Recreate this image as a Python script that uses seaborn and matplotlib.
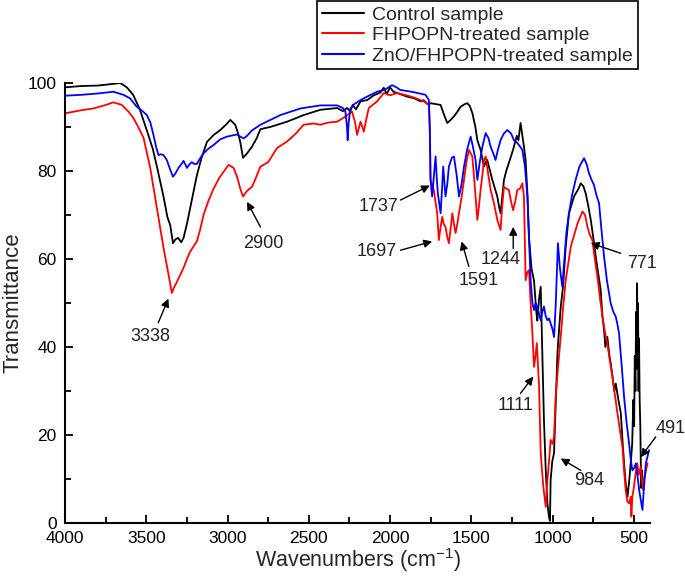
import seaborn as sns
import matplotlib.pyplot as plt
import pandas as pd
from matplotlib.ticker import MultipleLocator

# FTIR spectra (wavenumber cm-1, transmittance)
control_wn = [4000, 3900, 3800, 3700, 3661, 3620, 3581, 3540, 3495, 3460, 3433, 3396, 3370, 3353, 3336,
              3320, 3304, 3285, 3271, 3250, 3230, 3189, 3160, 3127, 3085, 3045, 3010, 2983, 2953, 2935,
              2922, 2905, 2880, 2850, 2820, 2798, 2737, 2634, 2532, 2429, 2326, 2290, 2264, 2245, 2230,
              2210, 2182, 2141, 2100, 2060, 2039, 2020, 2000, 1979, 1940, 1895, 1850, 1812, 1794, 1763,
              1751, 1720, 1689, 1670, 1648, 1630, 1607, 1585, 1566, 1540, 1525, 1510, 1494, 1475, 1463,
              1443, 1430, 1422, 1412, 1402, 1385, 1371, 1355, 1340, 1330, 1320, 1310, 1299, 1285, 1269,
              1250, 1238, 1220, 1210, 1197, 1186, 1176, 1166, 1155, 1145, 1130, 1114, 1100, 1094, 1083,
              1073, 1063, 1053, 1042, 1032, 1022, 1016, 1012, 1002, 991, 980, 970, 960, 950, 935,
              919, 909, 899, 868, 840, 827, 810, 796, 780, 765, 750, 734, 720, 704, 693,
              683, 675, 663, 650, 642, 630, 620, 611, 595, 580, 570, 560, 550, 539, 530,
              519, 510, 503, 498, 494, 490, 486, 482, 480, 477, 474, 471, 468, 464, 460,
              455, 450, 446]
control_t = [99.0, 99.3, 99.4, 99.8, 100.0, 99.0, 97.3, 94.0, 89.0, 85.0, 80.7, 74.5, 69.5, 67.7, 63.6,
             64.5, 64.8, 63.8, 64.8, 68.0, 71.6, 79.0, 83.0, 86.6, 88.2, 89.3, 90.5, 91.6, 90.5, 88.5,
             86.6, 83.0, 84.0, 85.5, 87.5, 89.5, 90.0, 91.2, 92.7, 93.9, 94.3, 93.6, 94.3, 93.5, 95.0,
             94.0, 95.8, 96.1, 97.2, 97.8, 98.9, 97.5, 99.0, 98.0, 97.5, 96.9, 96.5, 95.8, 96.1, 95.0,
             95.4, 95.2, 95.0, 93.0, 90.9, 91.5, 92.4, 93.5, 94.6, 95.2, 95.4, 94.8, 93.2, 90.0, 87.0,
             84.8, 82.5, 81.0, 82.0, 82.5, 80.0, 78.0, 76.0, 74.2, 72.0, 70.4, 74.0, 78.0, 80.0, 81.8,
             84.0, 85.5, 88.0, 87.0, 90.9, 88.0, 85.5, 82.5, 75.0, 65.0, 58.0, 55.0, 48.0, 46.0, 51.0,
             53.7, 38.6, 23.4, 12.0, 4.5, 1.4, 0.5, 9.8, 14.0, 15.9, 28.0, 38.6, 44.0, 49.0, 54.0,
             62.8, 66.6, 70.4, 74.2, 76.0, 77.2, 76.5, 74.9, 72.0, 68.9, 65.0, 60.5, 57.0, 53.0, 47.0,
             43.9, 40.0, 42.3, 38.0, 36.3, 33.0, 30.0, 31.7, 28.0, 25.0, 19.0, 13.6, 9.0, 6.0, 9.0,
             13.6, 18.0, 28.0, 22.0, 38.0, 30.0, 48.0, 40.0, 54.5, 35.0, 50.0, 30.0, 42.0, 28.0, 22.0,
             8.0, 12.0, 10.0]

fhpopn_wn = [4000, 3900, 3826, 3750, 3702, 3651, 3610, 3579, 3550, 3517, 3476, 3435, 3394, 3363, 3343,
             3330, 3312, 3290, 3271, 3250, 3230, 3189, 3170, 3148, 3120, 3086, 3050, 3025, 2994, 2963,
             2940, 2922, 2905, 2880, 2850, 2825, 2798, 2750, 2696, 2634, 2580, 2532, 2470, 2429, 2380,
             2326, 2290, 2264, 2234, 2215, 2203, 2190, 2182, 2170, 2162, 2145, 2131, 2080, 2039, 2000,
             1957, 1900, 1854, 1792, 1761, 1755, 1751, 1731, 1720, 1710, 1700, 1690, 1679, 1670, 1659,
             1648, 1638, 1627, 1617, 1607, 1597, 1586, 1576, 1560, 1545, 1530, 1515, 1494, 1484, 1474,
             1463, 1453, 1443, 1432, 1422, 1412, 1395, 1381, 1361, 1340, 1320, 1310, 1299, 1285, 1269,
             1255, 1243, 1230, 1217, 1200, 1186, 1176, 1166, 1155, 1145, 1135, 1124, 1114, 1105, 1097,
             1083, 1073, 1065, 1057, 1042, 1032, 1022, 1012, 1000, 991, 981, 965, 950, 935, 919,
             888, 847, 816, 800, 786, 771, 755, 740, 724, 708, 693, 678, 663, 648, 632,
             616, 601, 585, 570, 560, 550, 540, 529, 519, 515, 509, 500, 490, 478, 470,
             457, 448, 441, 437, 425, 416]
fhpopn_t = [93.1, 93.8, 94.2, 95.0, 95.6, 95.0, 93.5, 92.0, 90.0, 87.5, 80.7, 71.6, 62.5, 56.4, 52.3,
            53.5, 54.8, 56.5, 58.0, 60.0, 61.7, 64.0, 66.5, 70.0, 73.0, 76.0, 78.5, 79.8, 81.4, 80.7,
            78.5, 76.0, 74.2, 75.5, 76.4, 78.5, 81.0, 82.0, 85.2, 86.7, 88.5, 90.5, 90.8, 90.5, 91.0,
            91.2, 92.0, 92.7, 93.5, 91.0, 88.2, 90.0, 91.2, 90.0, 88.9, 92.0, 94.3, 95.8, 97.7, 97.2,
            97.7, 97.2, 96.7, 95.8, 95.0, 90.0, 78.0, 75.7, 73.0, 70.4, 64.3, 67.0, 69.6, 68.0, 67.3,
            65.0, 63.6, 67.0, 70.4, 68.0, 65.9, 68.0, 70.4, 74.0, 78.0, 82.0, 84.8, 83.3, 79.0, 74.2,
            68.9, 72.0, 75.7, 79.0, 82.5, 83.3, 79.0, 75.7, 72.7, 68.9, 66.6, 72.0, 76.4, 76.0, 75.7,
            73.0, 71.1, 73.0, 75.7, 76.0, 77.2, 74.2, 55.2, 57.0, 57.5, 50.0, 43.0, 35.5, 38.0, 40.9,
            31.0, 15.9, 12.0, 8.3, 3.7, 9.8, 14.0, 18.9, 18.0, 19.6, 28.7, 36.0, 42.3, 49.0, 55.2,
            62.8, 68.0, 70.8, 70.0, 67.4, 65.5, 64.3, 60.0, 56.0, 51.0, 46.9, 43.5, 40.8, 37.0, 33.3,
            29.0, 25.0, 21.0, 17.3, 12.0, 7.5, 5.0, 4.5, 6.0, 1.5, 6.0, 8.0, 11.0, 13.6, 11.0,
            12.8, 9.0, 7.5, 9.8, 12.0, 13.6]

zno_wn = [4000, 3900, 3800, 3702, 3641, 3600, 3559, 3520, 3497, 3475, 3456, 3440, 3425, 3410, 3394,
          3374, 3355, 3336, 3320, 3302, 3285, 3271, 3260, 3250, 3235, 3220, 3205, 3189, 3170, 3148,
          3120, 3086, 3045, 3004, 2942, 2922, 2900, 2880, 2850, 2798, 2737, 2675, 2600, 2552, 2500,
          2429, 2326, 2290, 2275, 2265, 2261, 2255, 2244, 2220, 2182, 2141, 2080, 2030, 1988, 1960,
          1937, 1900, 1854, 1782, 1761, 1755, 1751, 1741, 1730, 1720, 1712, 1706, 1689, 1680, 1673,
          1659, 1648, 1638, 1620, 1607, 1590, 1576, 1560, 1545, 1525, 1504, 1490, 1474, 1463, 1448,
          1432, 1412, 1395, 1381, 1365, 1351, 1335, 1320, 1300, 1279, 1255, 1238, 1220, 1207, 1186,
          1170, 1155, 1145, 1135, 1124, 1114, 1105, 1094, 1083, 1073, 1063, 1053, 1042, 1032, 1022,
          1012, 1000, 991, 981, 967, 955, 940, 929, 915, 899, 880, 858, 835, 806, 790,
          776, 760, 745, 730, 714, 700, 683, 665, 642, 626, 611, 600, 591, 575, 560,
          545, 529, 519, 509, 498, 488, 475, 465, 457, 447, 438, 426, 406]
zno_t = [97.1, 97.3, 97.6, 98.0, 97.3, 96.5, 94.6, 93.5, 92.7, 91.0, 88.2, 85.5, 83.6, 83.8, 83.6,
         82.5, 80.5, 78.7, 79.5, 80.7, 81.5, 82.3, 81.5, 80.7, 81.5, 82.0, 81.6, 81.6, 82.8, 84.0,
         85.0, 85.9, 87.2, 87.8, 88.3, 87.8, 87.4, 88.0, 89.2, 90.5, 91.6, 92.7, 93.6, 94.2, 94.5,
         94.9, 94.9, 94.3, 93.5, 90.0, 87.0, 91.0, 94.2, 95.2, 96.1, 96.9, 98.0, 98.5, 99.5, 99.0,
         98.4, 98.2, 97.9, 97.3, 96.1, 88.0, 78.0, 74.2, 79.0, 83.3, 78.0, 74.9, 70.4, 76.0, 81.0,
         74.2, 77.0, 81.0, 83.0, 83.3, 79.0, 74.2, 77.0, 81.0, 85.0, 87.8, 85.5, 82.5, 78.0, 82.0,
         85.5, 88.6, 87.5, 85.5, 84.0, 82.5, 85.0, 87.0, 88.5, 89.3, 88.5, 87.0, 86.5, 85.9, 84.8,
         81.0, 74.2, 65.0, 55.2, 50.0, 48.4, 50.0, 49.2, 47.5, 46.1, 48.0, 49.2, 47.0, 46.1, 46.5,
         45.4, 44.0, 42.3, 49.2, 63.6, 58.0, 53.7, 59.0, 66.0, 70.4, 74.5, 78.0, 81.0, 82.9, 81.5,
         79.5, 78.0, 76.8, 74.5, 72.7, 67.0, 60.5, 55.0, 49.9, 48.0, 46.9, 45.0, 43.1, 36.0, 28.7,
         23.0, 18.1, 14.5, 12.0, 12.5, 13.6, 10.0, 7.0, 5.2, 3.0, 8.0, 13.6, 16.6]

sample_names = ['Control sample', 'FHPOPN-treated sample', 'ZnO/FHPOPN-treated sample']
sample_colors = ['#000000', '#ff0000', '#0000ff']

# peak labels: (text, peak position, text position)
peak_labels = ['3338', '2900', '1737', '1697', '1591', '1244', '1111', '984', '771', '491']
peak_tips = [(3364, 51), (2880, 73), (1755, 76.7), (1741, 64), (1560, 64), (1242, 67.3),
             (1119, 33.3), (950, 14.7), (765, 63.6), (457, 15)]
label_pos = [(3476, 42.3), (2778, 63.6), (2070, 72), (2080, 61.7), (1453, 55.2), (1320, 59.8),
             (1227, 26.8), (776, 9.8), (447, 59), (272, 21.5)]
arrow_tails = [(3427, 45.5), (2798, 67.3), (1936, 73.4), (1936, 62), (1515, 58.3), (1242, 62.4),
               (1197, 29.5), (827, 12), (580, 61.3), (365, 19.6)]

df = pd.concat([
    pd.DataFrame({'wavenumber': control_wn, 'transmittance': control_t, 'sample': sample_names[0]}),
    pd.DataFrame({'wavenumber': fhpopn_wn, 'transmittance': fhpopn_t, 'sample': sample_names[1]}),
    pd.DataFrame({'wavenumber': zno_wn, 'transmittance': zno_t, 'sample': sample_names[2]}),
], ignore_index=True)

sns.set_style('ticks')
plt.rcParams['font.family'] = ['Liberation Sans', 'DejaVu Sans']
plt.rcParams['mathtext.default'] = 'regular'

fig, ax = plt.subplots(figsize=(6.85, 5.8), dpi=100)
fig.subplots_adjust(left=0.095, right=0.949, bottom=0.098, top=0.857)

sns.lineplot(data=df, x='wavenumber', y='transmittance', hue='sample',
             palette=dict(zip(sample_names, sample_colors)), estimator=None, sort=False,
             linewidth=1.3, ax=ax)

ax.set_xlim(4000, 400)
ax.set_ylim(0, 100)
ax.xaxis.set_major_locator(MultipleLocator(500))
ax.xaxis.set_minor_locator(MultipleLocator(250))
ax.yaxis.set_major_locator(MultipleLocator(20))
ax.yaxis.set_minor_locator(MultipleLocator(10))
ax.tick_params(which='both', direction='in', width=1.3, labelsize=12.5, colors='black')
ax.tick_params(which='major', length=6)
ax.tick_params(which='minor', length=4)
ax.tick_params(axis='x', pad=6)
ax.tick_params(axis='y', pad=6)
sns.despine(ax=ax)
for side in ['left', 'bottom']:
    ax.spines[side].set_linewidth(1.5)
    ax.spines[side].set_color('black')

ax.set_xlabel('Wavenumbers (cm$^{-1}$)', fontsize=15.5, labelpad=0)
ax.set_ylabel('Transmittance', fontsize=16, labelpad=3)

for text, tip, pos, tail in zip(peak_labels, peak_tips, label_pos, arrow_tails):
    ax.text(pos[0], pos[1], text, fontsize=13, ha='center', va='center', color='#222222')
    ax.annotate('', xy=tip, xytext=tail, annotation_clip=False,
                arrowprops=dict(arrowstyle='-|>', color='black', lw=1.0,
                                mutation_scale=12, shrinkA=0, shrinkB=0))

handles, labels = ax.get_legend_handles_labels()
leg = ax.legend(handles, labels, loc='upper right', bbox_to_anchor=(0.979, 1.186),
                borderaxespad=0, fontsize=14, frameon=True, fancybox=False,
                edgecolor='black', framealpha=1, handlelength=2.2, handletextpad=0.4,
                borderpad=0.25, labelspacing=0.15)
leg.get_frame().set_linewidth(1.2)
for line in leg.get_lines():
    line.set_linewidth(1.5)

fig.savefig('out.png', dpi=100)
